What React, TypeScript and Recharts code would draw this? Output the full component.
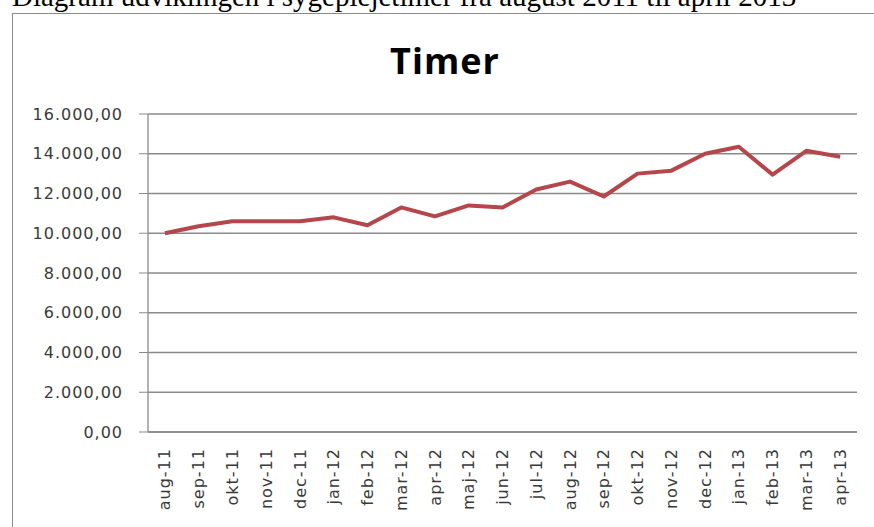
import React from "react";
import { LineChart, Line, XAxis, YAxis, CartesianGrid } from "recharts";

const months = [
  "aug-11", "sep-11", "okt-11", "nov-11", "dec-11", "jan-12", "feb-12",
  "mar-12", "apr-12", "maj-12", "jun-12", "jul-12", "aug-12", "sep-12",
  "okt-12", "nov-12", "dec-12", "jan-13", "feb-13", "mar-13", "apr-13",
];
const timer = [
  10000, 10350, 10600, 10600, 10600, 10800, 10400, 11300, 10850, 11400, 11300,
  12200, 12600, 11850, 13000, 13150, 14000, 14350, 12950, 14150, 13850,
];
const yTicks = [0, 2000, 4000, 6000, 8000, 10000, 12000, 14000, 16000];

const data = months.map((m, i) => ({ i, month: m, timer: timer[i] }));
const labelTicks = months.map((_, i) => i);
const boundaryTicks = [...months.map((_, i) => i - 0.5), months.length - 0.5];

// danish style: 16.000,00
const fmt = (v: number) => {
  const s = Math.round(v).toString().replace(/\B(?=(\d{3})+(?!\d))/g, ".");
  return s + ",00";
};

const axisColor = "#8a8a8a";
const textColor = "#3a3a3a";
const tickFont = "DejaVu Sans, sans-serif";

function MonthTick(props: any) {
  const { x, y, payload } = props;
  return (
    <text
      x={x}
      y={y}
      transform={`rotate(-90, ${x}, ${y})`}
      textAnchor="end"
      dy="0.35em"
      fill={textColor}
      fontSize={16}
      fontFamily={tickFont}
      letterSpacing={1}
    >
      {months[payload.value]}
    </text>
  );
}

export default function App() {
  return (
    <div
      style={{
        position: "absolute",
        left: 0,
        top: 0,
        width: 874,
        height: 527,
        overflow: "hidden",
        background: "#fff",
      }}
    >
      <div
        style={{
          position: "absolute",
          left: 12,
          top: -18,
          fontFamily: "Liberation Serif, serif",
          fontSize: 29,
          lineHeight: "29px",
          whiteSpace: "nowrap",
          color: "#000",
        }}
      >
        Diagram udviklingen i sygeplejetimer fra august 2011 til april 2013
      </div>
      <div
        style={{
          position: "absolute",
          left: 12,
          top: 13,
          width: 861,
          height: 513,
          borderLeft: `1px solid ${axisColor}`,
          borderTop: `1px solid ${axisColor}`,
        }}
      />
      <div
        style={{
          position: "absolute",
          left: 13,
          top: 41,
          width: 864,
          textAlign: "center",
          fontFamily: "Open Sans, sans-serif",
          fontWeight: 700,
          fontSize: 36,
          lineHeight: "40px",
          letterSpacing: 1,
          color: "#000",
        }}
      >
        Timer
      </div>
      <div style={{ position: "absolute", left: 13, top: 14 }}>
        <LineChart
          width={861}
          height={513}
          data={data}
          margin={{ top: 100, right: 17, left: 0, bottom: 0 }}
        >
          <CartesianGrid vertical={false} stroke={axisColor} strokeWidth={1.3} />
          <XAxis
            xAxisId="bnd"
            type="number"
            dataKey="i"
            domain={[-0.5, months.length - 0.5]}
            ticks={boundaryTicks}
            interval={0}
            tick={false}
            tickSize={5}
            height={1}
            stroke={axisColor}
            axisLine={{ stroke: axisColor, strokeWidth: 1.3 }}
            tickLine={{ stroke: axisColor }}
          />
          <XAxis
            xAxisId="cat"
            type="number"
            dataKey="i"
            domain={[-0.5, months.length - 0.5]}
            ticks={labelTicks}
            interval={0}
            tick={<MonthTick />}
            tickSize={0}
            tickMargin={15}
            height={94}
            axisLine={false}
            tickLine={false}
          />
          <YAxis
            type="number"
            domain={[0, 16000]}
            ticks={yTicks}
            interval={0}
            width={135}
            tickSize={9}
            tickMargin={16}
            tickFormatter={fmt}
            axisLine={{ stroke: axisColor, strokeWidth: 1.3 }}
            tickLine={{ stroke: axisColor }}
            tick={{ fill: textColor, fontSize: 16, fontFamily: tickFont, letterSpacing: 1 }}
          />
          <Line
            xAxisId="cat"
            type="linear"
            dataKey="timer"
            stroke="#b4474b"
            strokeWidth={4}
            strokeLinejoin="round"
            dot={false}
            activeDot={false}
            isAnimationActive={false}
          />
        </LineChart>
      </div>
    </div>
  );
}
